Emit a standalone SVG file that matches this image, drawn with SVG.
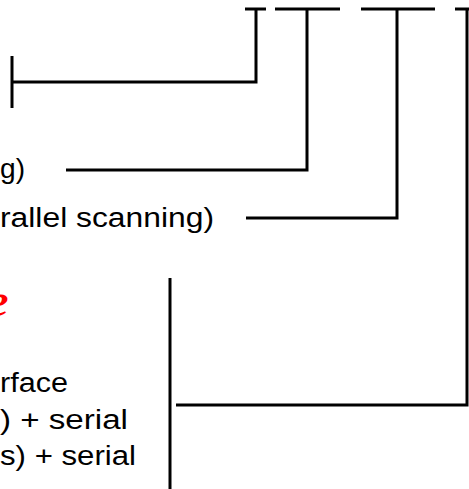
<svg xmlns="http://www.w3.org/2000/svg" width="469" height="489" viewBox="0 0 469 489">
  <style>
    .wire { stroke: #000; stroke-width: 3; fill: none; stroke-linecap: butt; stroke-linejoin: miter; }
    .lbl { font-family: "Liberation Sans", Arial, sans-serif; font-size: 27px; fill: #000; }
    .hot { font-family: "Liberation Serif", "Times New Roman", serif; font-size: 46px; font-weight: bold; font-style: italic; fill: #ff0000; }
  </style>
  <rect width="469" height="489" fill="#fff"/>

  <!-- field separators along the top -->
  <g id="fields" class="wire">
    <line x1="245" y1="9" x2="266" y2="9"/>
    <line x1="275" y1="9" x2="340" y2="9"/>
    <line x1="361" y1="9" x2="435" y2="9"/>
    <line x1="455" y1="9" x2="469" y2="9"/>
  </g>

  <!-- leader lines -->
  <g id="connectors" class="wire">
    <polyline points="256,9 256,82 12,82"/>
    <line x1="12" y1="56" x2="12" y2="108"/>
    <polyline points="307,9 307,170 66,170"/>
    <polyline points="397,9 397,218 246,218"/>
    <polyline points="467,9 467,405 176,405"/>
    <line x1="170" y1="278" x2="170" y2="489"/>
  </g>

  <g id="label-g">
    <text class="lbl" x="0" y="178" textLength="25" lengthAdjust="spacingAndGlyphs">g)</text>
  </g>
  <g id="label-scanning">
    <text class="lbl" x="0" y="227" textLength="214" lengthAdjust="spacingAndGlyphs">rallel scanning)</text>
  </g>
  <g id="label-e">
    <text class="hot" x="-12" y="316">e</text>
  </g>
  <g id="label-interface">
    <text class="lbl" x="0" y="392" textLength="68" lengthAdjust="spacingAndGlyphs">rface</text>
    <text class="lbl" x="0" y="429" textLength="128" lengthAdjust="spacingAndGlyphs">) + serial</text>
    <text class="lbl" x="0" y="465" textLength="136" lengthAdjust="spacingAndGlyphs">s) + serial</text>
  </g>
</svg>
